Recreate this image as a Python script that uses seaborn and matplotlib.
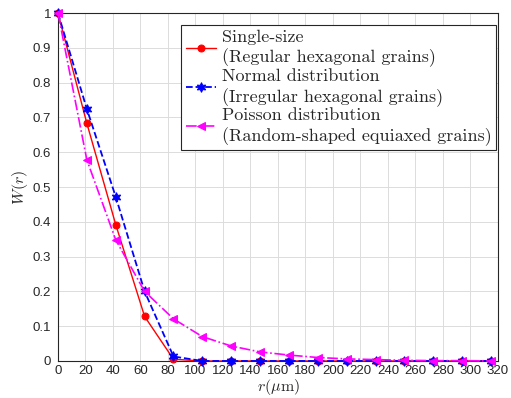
"""
W(r) versus r for three grain-size distributions
"""

import numpy as np
import matplotlib
matplotlib.use('Agg')
import matplotlib.pyplot as plt
import seaborn as sns
import pandas as pd

# sample radii (um) where the curves are marked
r_um = [0, 21, 42, 63, 84, 105, 126, 147, 168, 189, 210, 231, 252, 273, 294, 315]

w_single = [1.0, 0.683, 0.392, 0.128, 0.005, 0, 0, 0, 0, 0, 0, 0, 0, 0, 0, 0]
w_normal = [1.0, 0.724, 0.472, 0.200, 0.013, 0, 0, 0, 0, 0, 0, 0, 0, 0, 0, 0]
w_poisson = [1.0, 0.578, 0.348, 0.200, 0.121, 0.070, 0.043, 0.026, 0.017,
             0.010, 0.006, 0.004, 0.002, 0.001, 0.001, 0.0]

labels = ['Single-size\n(Regular hexagonal grains)',
          'Normal distribution\n(Irregular hexagonal grains)',
          'Poisson distribution\n(Random-shaped equiaxed grains)']

x_ticks = list(range(0, 321, 20))
y_ticks = [0, 0.1, 0.2, 0.3, 0.4, 0.5, 0.6, 0.7, 0.8, 0.9, 1]

sns.set_theme(style='whitegrid')
plt.rcParams['font.family'] = ['Liberation Sans', 'DejaVu Sans']
plt.rcParams['mathtext.fontset'] = 'cm'

df = pd.DataFrame({
    'r': r_um * 3,
    'W': w_single + w_normal + w_poisson,
    'series': [labels[0]] * len(r_um) + [labels[1]] * len(r_um) + [labels[2]] * len(r_um),
})

fig = plt.figure(figsize=(5.11, 3.98), dpi=100)
ax = fig.add_axes([0.1135, 0.093, 0.861, 0.874])

styles = {
    labels[0]: dict(color='#ff0000', ls='-', marker='o', ms=5, lw=1.0),
    labels[1]: dict(color='#0000ff', ls='--', marker=(6, 1, 0), ms=7, lw=1.3),
    labels[2]: dict(color='#ff00ff', ls='-.', marker='<', ms=5.5, lw=1.2),
}

for name in labels:
    sub = df[df['series'] == name]
    st = styles[name]
    sns.lineplot(data=sub, x='r', y='W', ax=ax, color=st['color'], linestyle=st['ls'],
                 marker=st['marker'], markersize=st['ms'], linewidth=st['lw'],
                 markeredgecolor=st['color'], label=name, clip_on=False, zorder=3)

ax.set_xlim(0, 320)
ax.set_ylim(0, 1)
ax.set_xticks(x_ticks)
ax.set_yticks(y_ticks)
ax.set_yticklabels([f'{v:g}' for v in y_ticks])
ax.tick_params(axis='both', labelsize=9.5, length=3, direction='in', colors='#262626')
ax.tick_params(axis='y', pad=5)
ax.tick_params(axis='x', pad=3)
ax.grid(True, color='#dcdcdc', linewidth=0.7)
for sp in ax.spines.values():
    sp.set_visible(True)
    sp.set_color('#262626')
    sp.set_linewidth(0.8)

ax.set_xlabel(r'$r(\mu\mathrm{m})$', fontsize=11.5, labelpad=0)
ax.set_ylabel(r'$W(r)$', fontsize=11.5, labelpad=2)

leg = ax.legend(loc='upper right', bbox_to_anchor=(1.0, 0.972),
                prop={'family': 'cmr10', 'size': 13}, frameon=True, fancybox=False,
                handlelength=1.7, handletextpad=0.3, labelspacing=0.05,
                borderpad=0.25, borderaxespad=0.1)
for t in leg.get_texts():
    t.set_linespacing(1.3)
leg.get_frame().set_edgecolor('#262626')
leg.get_frame().set_linewidth(0.8)
leg.get_frame().set_alpha(1)

fig.savefig('out.png', dpi=100)
